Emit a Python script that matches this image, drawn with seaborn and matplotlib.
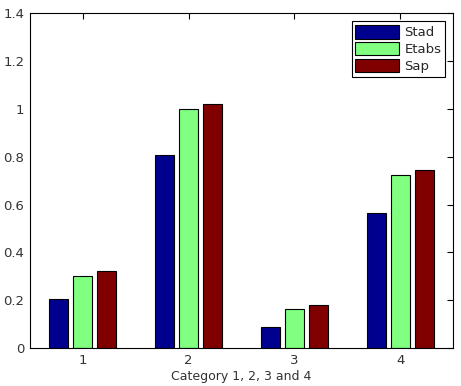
import matplotlib
matplotlib.use("Agg")
import matplotlib.pyplot as plt
import pandas as pd
import seaborn as sns

categories = ["1", "2", "3", "4"]
series = ["Stad", "Etabs", "Sap"]
stad = [0.205, 0.809, 0.089, 0.565]
etabs = [0.302, 1.0, 0.163, 0.725]
sap = [0.323, 1.022, 0.181, 0.743]
colors = ["#00008F", "#80FF80", "#800000"]
yticks = [0, 0.2, 0.4, 0.6, 0.8, 1, 1.2, 1.4]
ytick_labels = ["0", "0.2", "0.4", "0.6", "0.8", "1", "1.2", "1.4"]

df = pd.DataFrame({
    "category": categories * 3,
    "series": [s for s in series for _ in categories],
    "value": stad + etabs + sap,
})

sns.set_style("white")
plt.rcParams["font.family"] = ["DejaVu Sans"]

fig = plt.figure(figsize=(4.61, 3.86), dpi=100)
ax = fig.add_axes([0.065, 0.098, 0.918, 0.868])

sns.barplot(data=df, x="category", y="value", hue="series", order=categories,
            hue_order=series, palette=colors, width=0.68, gap=0.2,
            edgecolor="black", linewidth=0.8, saturation=1, ax=ax)

ax.set_xlim(-0.5, 3.5)
ax.set_ylim(0, 1.4)
ax.set_yticks(yticks)
ax.set_yticklabels(ytick_labels)
ax.set_xlabel("Category 1, 2, 3 and 4", fontsize=9, color="#333333", labelpad=2)
ax.set_ylabel("")
ax.tick_params(direction="in", top=True, right=True, length=4, width=0.8,
               labelsize=9.5, colors="black", labelcolor="#333333", pad=4)
for s in ax.spines.values():
    s.set_visible(True)
    s.set_color("black")
    s.set_linewidth(0.8)

leg = ax.legend(loc="upper right", fontsize=9.5, fancybox=False, framealpha=1,
                edgecolor="black", handlelength=3.3, handleheight=1.2,
                borderaxespad=0.6, labelspacing=0.2, handletextpad=0.4,
                borderpad=0.3, title=None)
leg.get_frame().set_linewidth(0.8)

fig.savefig("out.png", dpi=100)
